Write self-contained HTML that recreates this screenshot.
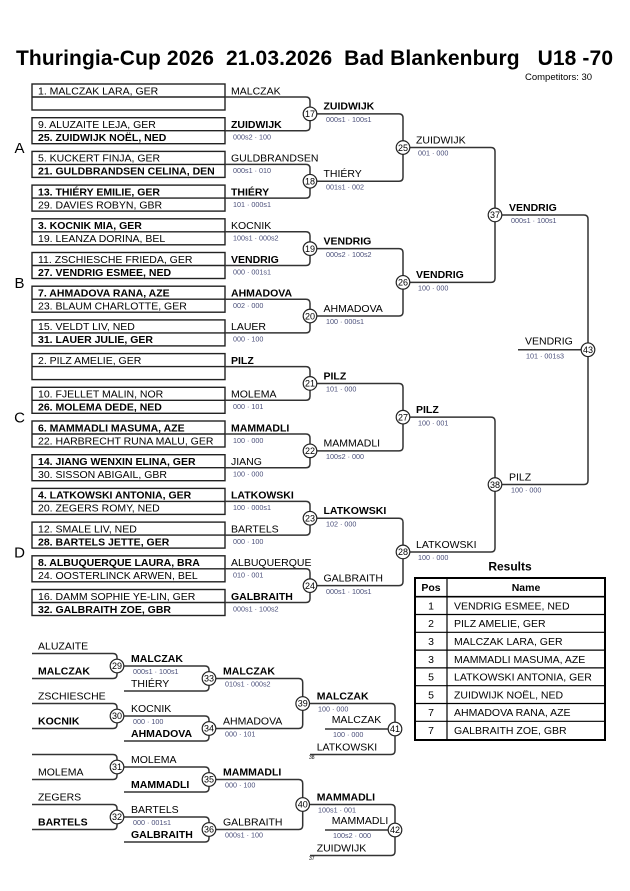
<!DOCTYPE html>
<html><head><meta charset="utf-8"><style>
html,body{margin:0;padding:0;background:#fff}
svg{display:block}
text{font-family:"Liberation Sans",Arial,sans-serif;fill:#000}
.n{font-size:10.5px}
.b{font-size:10.5px;font-weight:bold}
.s{font-size:7.2px;fill:#4a4f7a}
.c{font-size:9px;text-anchor:middle}
.g{font-size:15px;text-anchor:middle}
.l{fill:none;stroke:#333;stroke-width:1.5}
.bx{fill:none;stroke:#222;stroke-width:1.4}
circle{fill:#fff;stroke:#222;stroke-width:1.2}
.t{fill:none;stroke:#000;stroke-width:1.2}
</style></head><body>
<svg width="630" height="891" viewBox="0 0 630 891" xmlns="http://www.w3.org/2000/svg">
<rect width="630" height="891" fill="#fff"/>
<text x="16" y="65" font-size="21" font-weight="bold" textLength="597" style="white-space:pre" xml:space="preserve">Thuringia-Cup 2026  21.03.2026  Bad Blankenburg   U18 -70</text>
<text x="525" y="80" font-size="9.5">Competitors: 30</text>

<!-- group letters -->
<text class="g" x="19.5" y="153">A</text>
<text class="g" x="19.5" y="288">B</text>
<text class="g" x="19.5" y="422.5">C</text>
<text class="g" x="19.5" y="557.5">D</text>

<!-- boxes -->
<g class="bx">
<rect x="32" y="84" width="193" height="26"/><line x1="32" x2="225" y1="97" y2="97"/>
<rect x="32" y="117.7" width="193" height="26"/><line x1="32" x2="225" y1="130.7" y2="130.7"/>
<rect x="32" y="151.4" width="193" height="26"/><line x1="32" x2="225" y1="164.4" y2="164.4"/>
<rect x="32" y="185.1" width="193" height="26"/><line x1="32" x2="225" y1="198.1" y2="198.1"/>
<rect x="32" y="218.8" width="193" height="26"/><line x1="32" x2="225" y1="231.8" y2="231.8"/>
<rect x="32" y="252.5" width="193" height="26"/><line x1="32" x2="225" y1="265.5" y2="265.5"/>
<rect x="32" y="286.2" width="193" height="26"/><line x1="32" x2="225" y1="299.2" y2="299.2"/>
<rect x="32" y="319.9" width="193" height="26"/><line x1="32" x2="225" y1="332.9" y2="332.9"/>
<rect x="32" y="353.6" width="193" height="26"/><line x1="32" x2="225" y1="366.6" y2="366.6"/>
<rect x="32" y="387.3" width="193" height="26"/><line x1="32" x2="225" y1="400.3" y2="400.3"/>
<rect x="32" y="421" width="193" height="26"/><line x1="32" x2="225" y1="434" y2="434"/>
<rect x="32" y="454.7" width="193" height="26"/><line x1="32" x2="225" y1="467.7" y2="467.7"/>
<rect x="32" y="488.4" width="193" height="26"/><line x1="32" x2="225" y1="501.4" y2="501.4"/>
<rect x="32" y="522.1" width="193" height="26"/><line x1="32" x2="225" y1="535.1" y2="535.1"/>
<rect x="32" y="555.8" width="193" height="26"/><line x1="32" x2="225" y1="568.8" y2="568.8"/>
<rect x="32" y="589.5" width="193" height="26"/><line x1="32" x2="225" y1="602.5" y2="602.5"/>
</g>

<!-- main bracket lines -->
<g class="l">
<path d="M225 97H306Q310 97 310 101V113.85M225 130.7H306Q310 130.7 310 126.7V113.85"/>
<path d="M225 164.4H306Q310 164.4 310 168.4V181.25M225 198.1H306Q310 198.1 310 194.1V181.25"/>
<path d="M225 231.8H306Q310 231.8 310 235.8V248.65M225 265.5H306Q310 265.5 310 261.5V248.65"/>
<path d="M225 299.2H306Q310 299.2 310 303.2V316.05M225 332.9H306Q310 332.9 310 328.9V316.05"/>
<path d="M225 366.6H306Q310 366.6 310 370.6V383.45M225 400.3H306Q310 400.3 310 396.3V383.45"/>
<path d="M225 434H306Q310 434 310 438V450.85M225 467.7H306Q310 467.7 310 463.7V450.85"/>
<path d="M225 501.4H306Q310 501.4 310 505.4V518.25M225 535.1H306Q310 535.1 310 531.1V518.25"/>
<path d="M225 568.8H306Q310 568.8 310 572.8V585.65M225 602.5H306Q310 602.5 310 598.5V585.65"/>

<path d="M310 113.85H399Q403 113.85 403 117.85V147.55M310 181.25H399Q403 181.25 403 177.25V147.55"/>
<path d="M310 248.65H399Q403 248.65 403 252.65V282.35M310 316.05H399Q403 316.05 403 312.05V282.35"/>
<path d="M310 383.45H399Q403 383.45 403 387.45V417.15M310 450.85H399Q403 450.85 403 446.85V417.15"/>
<path d="M310 518.25H399Q403 518.25 403 522.25V551.95M310 585.65H399Q403 585.65 403 581.65V551.95"/>

<path d="M403 147.55H491Q495 147.55 495 151.55V214.95M403 282.35H491Q495 282.35 495 278.35V214.95"/>
<path d="M403 417.15H491Q495 417.15 495 421.15V484.55M403 551.95H491Q495 551.95 495 547.95V484.55"/>

<path d="M495 214.95H584Q588 214.95 588 218.95V349.75M495 484.55H584Q588 484.55 588 480.55V349.75"/>
<path d="M518 349.75H588"/>

<!-- repechage upper -->
<path d="M32 653.5H113Q117 653.5 117 657.5V666M32 678.5H113Q117 678.5 117 674.5V666"/>
<path d="M117 666H205Q209 666 209 670V678.5M124 691H205Q209 691 209 687V678.5"/>
<path d="M32 703.5H113Q117 703.5 117 707.5V716M32 728.5H113Q117 728.5 117 724.5V716"/>
<path d="M117 716H205Q209 716 209 720V728.5M124 741H205Q209 741 209 737V728.5"/>
<path d="M209 678.5H298.7Q302.7 678.5 302.7 682.5V703.5M209 728.5H298.7Q302.7 728.5 302.7 724.5V703.5"/>
<path d="M302.7 703.5H391Q395 703.5 395 707.5V729M310 754.5H391Q395 754.5 395 750.5V729M325 729H395"/>
<!-- repechage lower -->
<path d="M32 754.5H113Q117 754.5 117 758.5V767M32 779.5H113Q117 779.5 117 775.5V767"/>
<path d="M117 767H205Q209 767 209 771V779.5M124 792H205Q209 792 209 788V779.5"/>
<path d="M32 804.5H113Q117 804.5 117 808.5V817M32 829.5H113Q117 829.5 117 825.5V817"/>
<path d="M117 817H205Q209 817 209 821V829.5M124 842H205Q209 842 209 838V829.5"/>
<path d="M209 779.5H298.7Q302.7 779.5 302.7 783.5V804.5M209 829.5H298.7Q302.7 829.5 302.7 825.5V804.5"/>
<path d="M302.7 804.5H391Q395 804.5 395 808.5V830M310 855.5H391Q395 855.5 395 851.5V830M325 830H395"/>
</g>

<!-- box names -->
<text class="n" x="38" y="94.3">1. MALCZAK LARA, GER</text>
<text class="n" x="38" y="128">9. ALUZAITE LEJA, GER</text>
<text class="b" x="38" y="141">25. ZUIDWIJK NOËL, NED</text>
<text class="n" x="38" y="161.7">5. KUCKERT FINJA, GER</text>
<text class="b" x="38" y="174.7">21. GULDBRANDSEN CELINA, DEN</text>
<text class="b" x="38" y="195.4">13. THIÉRY EMILIE, GER</text>
<text class="n" x="38" y="208.4">29. DAVIES ROBYN, GBR</text>
<text class="b" x="38" y="229.1">3. KOCNIK MIA, GER</text>
<text class="n" x="38" y="242.1">19. LEANZA DORINA, BEL</text>
<text class="n" x="38" y="262.8">11. ZSCHIESCHE FRIEDA, GER</text>
<text class="b" x="38" y="275.8">27. VENDRIG ESMEE, NED</text>
<text class="b" x="38" y="296.5">7. AHMADOVA RANA, AZE</text>
<text class="n" x="38" y="309.5">23. BLAUM CHARLOTTE, GER</text>
<text class="n" x="38" y="330.2">15. VELDT LIV, NED</text>
<text class="b" x="38" y="343.2">31. LAUER JULIE, GER</text>
<text class="n" x="38" y="363.9">2. PILZ AMELIE, GER</text>
<text class="n" x="38" y="397.6">10. FJELLET MALIN, NOR</text>
<text class="b" x="38" y="410.6">26. MOLEMA DEDE, NED</text>
<text class="b" x="38" y="431.3">6. MAMMADLI MASUMA, AZE</text>
<text class="n" x="38" y="444.3">22. HARBRECHT RUNA MALU, GER</text>
<text class="b" x="38" y="465">14. JIANG WENXIN ELINA, GER</text>
<text class="n" x="38" y="478">30. SISSON ABIGAIL, GBR</text>
<text class="b" x="38" y="498.7">4. LATKOWSKI ANTONIA, GER</text>
<text class="n" x="38" y="511.7">20. ZEGERS ROMY, NED</text>
<text class="n" x="38" y="532.4">12. SMALE LIV, NED</text>
<text class="b" x="38" y="545.4">28. BARTELS JETTE, GER</text>
<text class="b" x="38" y="566.1">8. ALBUQUERQUE LAURA, BRA</text>
<text class="n" x="38" y="579.1">24. OOSTERLINCK ARWEN, BEL</text>
<text class="n" x="38" y="599.8">16. DAMM SOPHIE YE-LIN, GER</text>
<text class="b" x="38" y="612.8">32. GALBRAITH ZOE, GBR</text>

<!-- box side labels + scores -->
<text class="n" x="231" y="94.3">MALCZAK</text>
<text class="b" x="231" y="128">ZUIDWIJK</text><text class="s" x="233" y="139.5">000s2 · 100</text>
<text class="n" x="231" y="161.7">GULDBRANDSEN</text><text class="s" x="233" y="173.2">000s1 · 010</text>
<text class="b" x="231" y="195.4">THIÉRY</text><text class="s" x="233" y="206.9">101 · 000s1</text>
<text class="n" x="231" y="229.1">KOCNIK</text><text class="s" x="233" y="240.6">100s1 · 000s2</text>
<text class="b" x="231" y="262.8">VENDRIG</text><text class="s" x="233" y="274.3">000 · 001s1</text>
<text class="b" x="231" y="296.5">AHMADOVA</text><text class="s" x="233" y="308">002 · 000</text>
<text class="n" x="231" y="330.2">LAUER</text><text class="s" x="233" y="341.7">000 · 100</text>
<text class="b" x="231" y="363.9">PILZ</text>
<text class="n" x="231" y="397.6">MOLEMA</text><text class="s" x="233" y="409.1">000 · 101</text>
<text class="b" x="231" y="431.3">MAMMADLI</text><text class="s" x="233" y="442.8">100 · 000</text>
<text class="n" x="231" y="465">JIANG</text><text class="s" x="233" y="476.5">100 · 000</text>
<text class="b" x="231" y="498.7">LATKOWSKI</text><text class="s" x="233" y="510.2">100 · 000s1</text>
<text class="n" x="231" y="532.4">BARTELS</text><text class="s" x="233" y="543.9">000 · 100</text>
<text class="n" x="231" y="566.1">ALBUQUERQUE</text><text class="s" x="233" y="577.6">010 · 001</text>
<text class="b" x="231" y="599.8">GALBRAITH</text><text class="s" x="233" y="611.3">000s1 · 100s2</text>

<!-- round outputs -->
<text class="b" x="323.5" y="109.65">ZUIDWIJK</text><text class="s" x="326" y="121.95">000s1 · 100s1</text>
<text class="n" x="323.5" y="177.05">THIÉRY</text><text class="s" x="326" y="189.35">001s1 · 002</text>
<text class="b" x="323.5" y="244.45">VENDRIG</text><text class="s" x="326" y="256.75">000s2 · 100s2</text>
<text class="n" x="323.5" y="311.85">AHMADOVA</text><text class="s" x="326" y="324.15">100 · 000s1</text>
<text class="b" x="323.5" y="379.25">PILZ</text><text class="s" x="326" y="391.55">101 · 000</text>
<text class="n" x="323.5" y="446.65">MAMMADLI</text><text class="s" x="326" y="458.95">100s2 · 000</text>
<text class="b" x="323.5" y="514.05">LATKOWSKI</text><text class="s" x="326" y="526.35">102 · 000</text>
<text class="n" x="323.5" y="581.45">GALBRAITH</text><text class="s" x="326" y="593.75">000s1 · 100s1</text>

<text class="n" x="416" y="143.35">ZUIDWIJK</text><text class="s" x="418" y="155.65">001 · 000</text>
<text class="b" x="416" y="278.15">VENDRIG</text><text class="s" x="418" y="290.45">100 · 000</text>
<text class="b" x="416" y="412.95">PILZ</text><text class="s" x="418" y="425.25">100 · 001</text>
<text class="n" x="416" y="547.75">LATKOWSKI</text><text class="s" x="418" y="560.05">100 · 000</text>

<text class="b" x="509" y="210.75">VENDRIG</text><text class="s" x="511" y="223.05">000s1 · 100s1</text>
<text class="n" x="509" y="480.35">PILZ</text><text class="s" x="511" y="492.65">100 · 000</text>

<text class="n" x="525" y="344.5">VENDRIG</text><text class="s" x="526" y="358.3">101 · 001s3</text>

<!-- repechage texts upper -->
<text class="n" x="38" y="649.5">ALUZAITE</text>
<text class="b" x="38" y="674.5">MALCZAK</text>
<text class="b" x="131" y="661.8">MALCZAK</text><text class="s" x="133" y="674.1">000s1 · 100s1</text>
<text class="n" x="131" y="687">THIÉRY</text>
<text class="n" x="38" y="699.5">ZSCHIESCHE</text>
<text class="b" x="38" y="724.5">KOCNIK</text>
<text class="n" x="131" y="711.8">KOCNIK</text><text class="s" x="133" y="724.1">000 · 100</text>
<text class="b" x="131" y="737">AHMADOVA</text>
<text class="b" x="223" y="674.3">MALCZAK</text><text class="s" x="225" y="686.6">010s1 · 000s2</text>
<text class="n" x="223" y="724.3">AHMADOVA</text><text class="s" x="225" y="736.6">000 · 101</text>
<text class="b" x="316.7" y="699.3">MALCZAK</text><text class="s" x="318" y="711.6">100 · 000</text>
<text class="n" x="331.7" y="723">MALCZAK</text><text class="s" x="333" y="737">100 · 000</text>
<text class="n" x="316.7" y="750.5">LATKOWSKI</text>
<text x="309" y="759" font-size="5" fill="#333">38</text>

<!-- repechage texts lower -->
<text class="n" x="38" y="775.5">MOLEMA</text>
<text class="n" x="131" y="762.8">MOLEMA</text>
<text class="b" x="131" y="788">MAMMADLI</text>
<text class="n" x="38" y="800.5">ZEGERS</text>
<text class="b" x="38" y="825.5">BARTELS</text>
<text class="n" x="131" y="812.8">BARTELS</text><text class="s" x="133" y="825.1">000 · 001s1</text>
<text class="b" x="131" y="838">GALBRAITH</text>
<text class="b" x="223" y="775.3">MAMMADLI</text><text class="s" x="225" y="787.6">000 · 100</text>
<text class="n" x="223" y="825.3">GALBRAITH</text><text class="s" x="225" y="837.6">000s1 · 100</text>
<text class="b" x="316.7" y="800.3">MAMMADLI</text><text class="s" x="318" y="812.6">100s1 · 001</text>
<text class="n" x="331.7" y="824">MAMMADLI</text><text class="s" x="333" y="838">100s2 · 000</text>
<text class="n" x="316.7" y="851.5">ZUIDWIJK</text>
<text x="309" y="860" font-size="5" fill="#333">37</text>

<!-- circles -->
<g>
<circle cx="310" cy="113.85" r="6.8"/><circle cx="310" cy="181.25" r="6.8"/>
<circle cx="310" cy="248.65" r="6.8"/><circle cx="310" cy="316.05" r="6.8"/>
<circle cx="310" cy="383.45" r="6.8"/><circle cx="310" cy="450.85" r="6.8"/>
<circle cx="310" cy="518.25" r="6.8"/><circle cx="310" cy="585.65" r="6.8"/>
<circle cx="403" cy="147.55" r="6.8"/><circle cx="403" cy="282.35" r="6.8"/>
<circle cx="403" cy="417.15" r="6.8"/><circle cx="403" cy="551.95" r="6.8"/>
<circle cx="495" cy="214.95" r="6.8"/><circle cx="495" cy="484.55" r="6.8"/>
<circle cx="588" cy="349.75" r="6.8"/>
<circle cx="117" cy="666" r="6.8"/><circle cx="117" cy="716" r="6.8"/>
<circle cx="209" cy="678.5" r="6.8"/><circle cx="209" cy="728.5" r="6.8"/>
<circle cx="302.7" cy="703.5" r="6.8"/><circle cx="395" cy="729" r="6.8"/>
<circle cx="117" cy="767" r="6.8"/><circle cx="117" cy="817" r="6.8"/>
<circle cx="209" cy="779.5" r="6.8"/><circle cx="209" cy="829.5" r="6.8"/>
<circle cx="302.7" cy="804.5" r="6.8"/><circle cx="395" cy="830" r="6.8"/>
</g>
<g>
<text class="c" x="310" y="117.05">17</text><text class="c" x="310" y="184.45">18</text>
<text class="c" x="310" y="251.85">19</text><text class="c" x="310" y="319.25">20</text>
<text class="c" x="310" y="386.65">21</text><text class="c" x="310" y="454.05">22</text>
<text class="c" x="310" y="521.45">23</text><text class="c" x="310" y="588.85">24</text>
<text class="c" x="403" y="150.75">25</text><text class="c" x="403" y="285.55">26</text>
<text class="c" x="403" y="420.35">27</text><text class="c" x="403" y="555.15">28</text>
<text class="c" x="495" y="218.15">37</text><text class="c" x="495" y="487.75">38</text>
<text class="c" x="588" y="352.95">43</text>
<text class="c" x="117" y="669.2">29</text><text class="c" x="117" y="719.2">30</text>
<text class="c" x="209" y="681.7">33</text><text class="c" x="209" y="731.7">34</text>
<text class="c" x="302.7" y="706.7">39</text><text class="c" x="395" y="732.2">41</text>
<text class="c" x="117" y="770.2">31</text><text class="c" x="117" y="820.2">32</text>
<text class="c" x="209" y="782.7">35</text><text class="c" x="209" y="832.7">36</text>
<text class="c" x="302.7" y="807.7">40</text><text class="c" x="395" y="833.2">42</text>
</g>

<!-- results -->
<text x="510" y="570.3" font-size="12" font-weight="bold" text-anchor="middle">Results</text>
<rect x="415" y="578" width="190" height="162" fill="none" stroke="#000" stroke-width="2"/>
<g class="t">
<line x1="415" x2="605" y1="596.7" y2="596.7" stroke-width="1.6"/>
<line x1="415" x2="605" y1="614.5" y2="614.5"/>
<line x1="415" x2="605" y1="632.3" y2="632.3"/>
<line x1="415" x2="605" y1="650.1" y2="650.1"/>
<line x1="415" x2="605" y1="667.9" y2="667.9"/>
<line x1="415" x2="605" y1="685.7" y2="685.7"/>
<line x1="415" x2="605" y1="703.5" y2="703.5"/>
<line x1="415" x2="605" y1="721.3" y2="721.3"/>
<line x1="447" x2="447" y1="578" y2="740"/>
</g>
<text class="b" x="431" y="591.2" text-anchor="middle">Pos</text>
<text class="b" x="526" y="591.2" text-anchor="middle">Name</text>
<g class="n">
<text class="n" x="431" y="609.4" text-anchor="middle">1</text><text class="n" x="454" y="609.4">VENDRIG ESMEE, NED</text>
<text class="n" x="431" y="627.2" text-anchor="middle">2</text><text class="n" x="454" y="627.2">PILZ AMELIE, GER</text>
<text class="n" x="431" y="645" text-anchor="middle">3</text><text class="n" x="454" y="645">MALCZAK LARA, GER</text>
<text class="n" x="431" y="662.8" text-anchor="middle">3</text><text class="n" x="454" y="662.8">MAMMADLI MASUMA, AZE</text>
<text class="n" x="431" y="680.6" text-anchor="middle">5</text><text class="n" x="454" y="680.6">LATKOWSKI ANTONIA, GER</text>
<text class="n" x="431" y="698.4" text-anchor="middle">5</text><text class="n" x="454" y="698.4">ZUIDWIJK NOËL, NED</text>
<text class="n" x="431" y="716.2" text-anchor="middle">7</text><text class="n" x="454" y="716.2">AHMADOVA RANA, AZE</text>
<text class="n" x="431" y="734" text-anchor="middle">7</text><text class="n" x="454" y="734">GALBRAITH ZOE, GBR</text>
</g>
</svg>
</body></html>
